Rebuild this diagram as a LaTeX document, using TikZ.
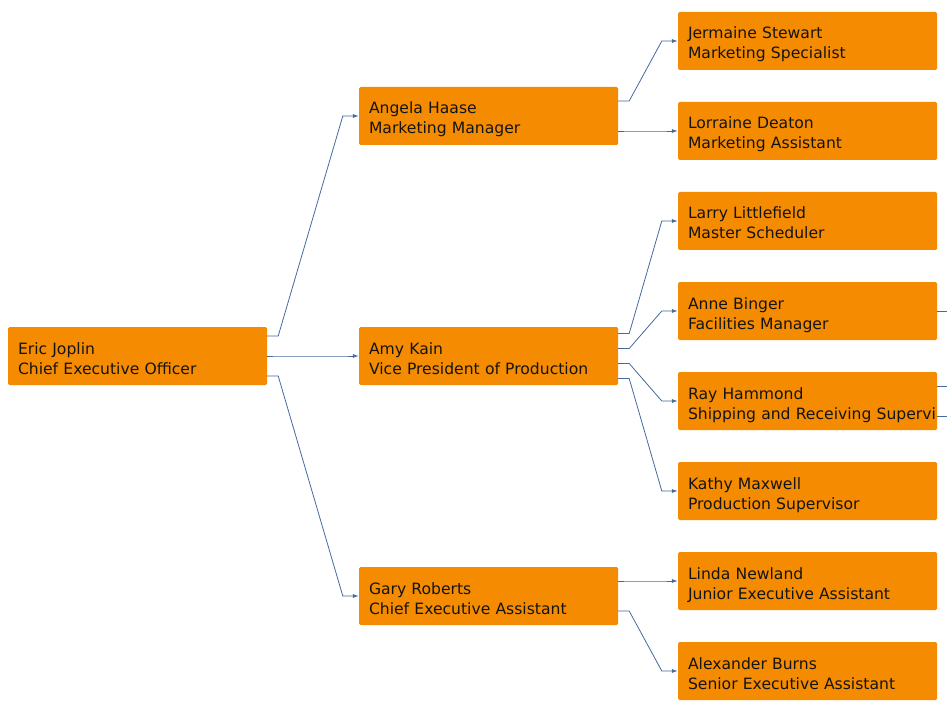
\documentclass[tikz,border=0pt]{standalone}
\usepackage{fontspec}
\setmainfont{DejaVu Sans}
\usetikzlibrary{arrows.meta}
\definecolor{boxorange}{HTML}{F58B00}
\definecolor{linkblue}{HTML}{456A9E}
\tikzset{
  person/.style={rectangle, fill=boxorange, rounded corners=1.5pt,
    text width=239pt, inner xsep=10pt, inner ysep=0pt,
    minimum height=58pt, align=left,
    font=\fontsize{15.6}{20}\selectfont, text=black!92,
    execute at begin node={\rule{0pt}{21pt}},
    execute at end node={\rule[-5pt]{0pt}{5pt}}},
  link/.style={draw=linkblue, line width=0.8pt,
    -{Latex[length=6pt,width=4pt]}},
  stub/.style={draw=linkblue, line width=0.8pt}
}
\begin{document}
\begin{tikzpicture}[x=1pt, y=-1pt]
      \useasboundingbox (0, 0) rectangle (947, 711);
      % people
      \node[person] (ceo) at (137.5, 356) {Eric Joplin\\Chief Executive Officer};
      \node[person] (mkt) at (488.5, 116) {Angela Haase\\Marketing Manager};
      \node[person] (vp) at (488.5, 356) {Amy Kain\\Vice President of Production};
      \node[person] (cea) at (488.5, 596) {Gary Roberts\\Chief Executive Assistant};
      \node[person] (spec) at (807.5, 41) {Jermaine Stewart\\Marketing Specialist};
      \node[person] (massist) at (807.5, 131) {Lorraine Deaton\\Marketing Assistant};
      \node[person] (sched) at (807.5, 221) {Larry Littlefield\\Master Scheduler};
      \node[person] (fac) at (807.5, 311) {Anne Binger\\Facilities Manager};
      \node[person] (ship) at (807.5, 401) {Ray Hammond\\\mbox{Shipping and Receiving Supervi}};
      \node[person] (prod) at (807.5, 491) {Kathy Maxwell\\Production Supervisor};
      \node[person] (jea) at (807.5, 581) {Linda Newland\\Junior Executive Assistant};
      \node[person] (sea) at (807.5, 671) {Alexander Burns\\Senior Executive Assistant};
      % links from the ceo
      \draw[link] ([yshift=20pt]ceo.east) -- ++(11, 0) -- ([xshift=-16pt]mkt.west) -- (mkt.west);
      \draw[link] (ceo.east) -- ++(11, 0) -- ([xshift=-16pt]vp.west) -- (vp.west);
      \draw[link] ([yshift=-20pt]ceo.east) -- ++(11, 0) -- ([xshift=-16pt]cea.west) -- (cea.west);
      % links from the managers
      \draw[link] ([yshift=15pt]mkt.east) -- ++(11, 0) -- ([xshift=-16pt]spec.west) -- (spec.west);
      \draw[link] ([yshift=-15pt]mkt.east) -- ++(11, 0) -- ([xshift=-16pt]massist.west) -- (massist.west);
      \draw[link] ([yshift=22.5pt]vp.east) -- ++(11, 0) -- ([xshift=-16pt]sched.west) -- (sched.west);
      \draw[link] ([yshift=7.5pt]vp.east) -- ++(11, 0) -- ([xshift=-16pt]fac.west) -- (fac.west);
      \draw[link] ([yshift=-7.5pt]vp.east) -- ++(11, 0) -- ([xshift=-16pt]ship.west) -- (ship.west);
      \draw[link] ([yshift=-22.5pt]vp.east) -- ++(11, 0) -- ([xshift=-16pt]prod.west) -- (prod.west);
      \draw[link] ([yshift=15pt]cea.east) -- ++(11, 0) -- ([xshift=-16pt]jea.west) -- (jea.west);
      \draw[link] ([yshift=-15pt]cea.east) -- ++(11, 0) -- ([xshift=-16pt]sea.west) -- (sea.west);
      % links running off the right edge
      \coordinate (offa) at (947, 311);
      \coordinate (offb) at (947, 386);
      \coordinate (offc) at (947, 416);
      \draw[stub] (fac.east) -- (offa);
      \draw[stub] ([yshift=15pt]ship.east) -- (offb);
      \draw[stub] ([yshift=-15pt]ship.east) -- (offc);
\end{tikzpicture}
\end{document}
